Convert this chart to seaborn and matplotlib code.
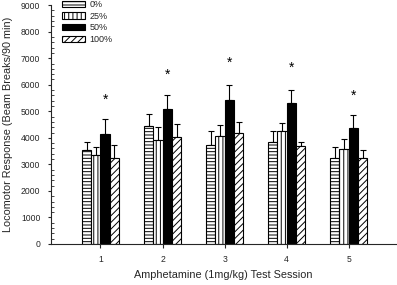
import numpy as np
import pandas as pd
import matplotlib
matplotlib.use("Agg")
import matplotlib.pyplot as plt
import seaborn as sns

# ------------------------------------------------------------
# Dados
# ------------------------------------------------------------
sessions = ["1", "2", "3", "4", "5"]
doses = ["0%", "25%", "50%", "100%"]

mean_0 = [3550, 4440, 3730, 3850, 3240]
mean_25 = [3350, 3930, 4070, 4240, 3590]
mean_50 = [4130, 5080, 5430, 5300, 4380]
mean_100 = [3250, 4030, 4190, 3690, 3240]

sem_0 = [300, 445, 525, 400, 415]
sem_25 = [315, 465, 430, 335, 375]
sem_50 = [580, 545, 555, 495, 465]
sem_100 = [475, 500, 400, 150, 300]

star_y = [5450, 6390, 6820, 6630, 5570]   # posição dos asteriscos

means = [mean_0, mean_25, mean_50, mean_100]
sems = [sem_0, sem_25, sem_50, sem_100]

df = pd.DataFrame({
    "session": sessions * len(doses),
    "dose": np.repeat(doses, len(sessions)),
    "mean": np.concatenate(means),
})

# ------------------------------------------------------------
# Estilo
# ------------------------------------------------------------
sns.set_style("ticks")
plt.rcParams["font.family"] = ["Liberation Sans", "DejaVu Sans"]
plt.rcParams["hatch.linewidth"] = 0.7
plt.rcParams["hatch.color"] = "black"

colors = {"0%": "white", "25%": "white", "50%": "black", "100%": "white"}
hatches = ["-----", "||||", "", "/////"]

fig = plt.figure(figsize=(3.97, 2.85), dpi=100)
ax = fig.add_axes([0.128, 0.144, 0.871, 0.838])

sns.barplot(data=df, x="session", y="mean", hue="dose",
            order=sessions, hue_order=doses, palette=colors,
            width=0.6, errorbar=None, saturation=1,
            edgecolor="black", linewidth=0.8, legend=False, ax=ax)

bars = list(ax.containers)
for cont, h, err in zip(bars, hatches, sems):
    xs, ys = [], []
    for p in cont:
        p.set_hatch(h)
        p.set_edgecolor("black")
        xs.append(p.get_x() + p.get_width() / 2)
        ys.append(p.get_height())
    ax.errorbar(xs, ys, yerr=[np.zeros(len(err)), err], fmt="none",
                ecolor="black", elinewidth=0.8, capsize=2.5, capthick=0.8,
                zorder=0.5)

# asteriscos sobre as barras de 50%
for p, sy in zip(bars[2], star_y):
    ax.text(p.get_x() + p.get_width() / 2, sy, "*", ha="center",
            va="center", fontsize=10, color="black")

ax.set_xlim(-0.8, 4.77)
ax.set_ylim(0, 9000)
ax.set_yticks(np.arange(0, 9001, 1000))
ax.set_yticks(np.arange(0, 9001, 200), minor=True)
ax.tick_params(axis="y", which="major", direction="out", length=2.5,
               width=0.8, labelsize=6.2, pad=5)
ax.tick_params(axis="y", which="minor", direction="in", length=2,
               width=0.6)
ax.tick_params(axis="x", which="major", direction="out", length=3,
               width=0.8, labelsize=6.2, pad=5)
sns.despine(ax=ax)
for s in ["left", "bottom"]:
    ax.spines[s].set_linewidth(0.8)

ax.set_xlabel("Amphetamine (1mg/kg) Test Session", fontsize=7.8, labelpad=4)
ax.set_ylabel("Locomotor Response (Beam Breaks/90 min)", fontsize=7.8,
              labelpad=5.5)

ax.legend(bars, doses, loc="upper left", bbox_to_anchor=(62 / 397, 1.0),
          bbox_transform=fig.transFigure, frameon=False, fontsize=6.5,
          handlelength=2.5, handleheight=0.7, labelspacing=0.3,
          handletextpad=0.55, borderpad=0, borderaxespad=0)

fig.savefig("out.png", dpi=100)
